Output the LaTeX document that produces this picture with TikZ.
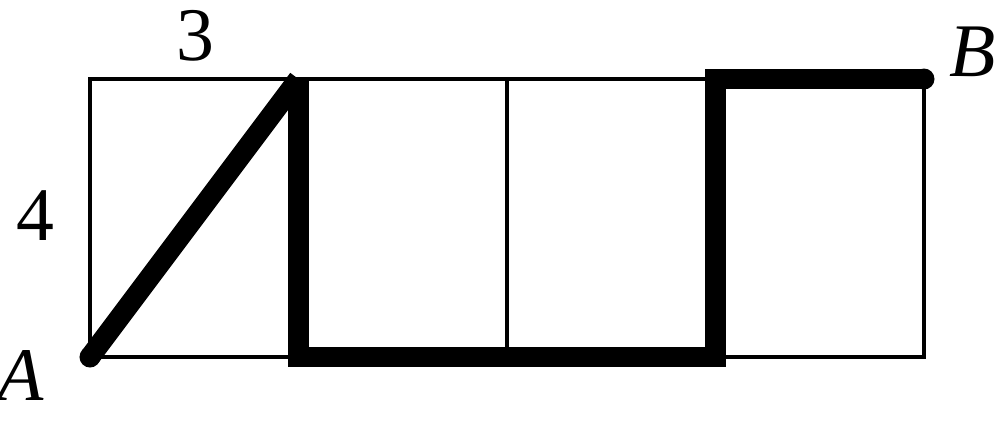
\documentclass[tikz,border=0pt]{standalone}
\usepackage{fontspec}
\setmainfont{Liberation Serif}
\usepackage{tikz}
\usetikzlibrary{positioning}
\tikzset{
  grid/.style={line width=1pt, draw=black},
  route/.style={line width=4.2pt, draw=black, line join=miter, line cap=butt},
  lbl/.style={inner sep=0pt, font=\fontsize{15.5}{18}\selectfont},
  pt/.style={circle, fill=black, inner sep=0pt, minimum size=4.3pt}
}
\begin{document}
\begin{tikzpicture}[x=0.5cm,y=0.5cm]
	\useasboundingbox (-1.295,-0.993) rectangle (13.079,5.137);
	% grid corners
	\coordinate (A) at (0,0);
	\coordinate (P1) at (3,4);
	\coordinate (Q1) at (3,0);
	\coordinate (Q3) at (9,0);
	\coordinate (P3) at (9,4);
	\coordinate (B) at (12,4);
	%
	\draw[grid] (A) rectangle (B);
	\foreach \i in {3,6,9}
		\draw[grid] (\i,0) -- (\i,4);
	%
	\draw[route] (A) -- (P1);
	\draw[route] (P1) -- (Q1) -- (Q3) -- (P3) -- (B);
	\node[pt] (dotA) at (A) {};
	\node[pt] (dotB) at (B) {};
	%
	\node[lbl] (three) at (1.51,4.62) {3};
	\node[lbl] (four) at (-0.79,2.03) {4};
	\node[lbl] (labA) at (-0.99,-0.27) {\textit{A}};
	\node[lbl] (labB) at (12.7,4.39) {\textit{B}};
\end{tikzpicture}
\end{document}
